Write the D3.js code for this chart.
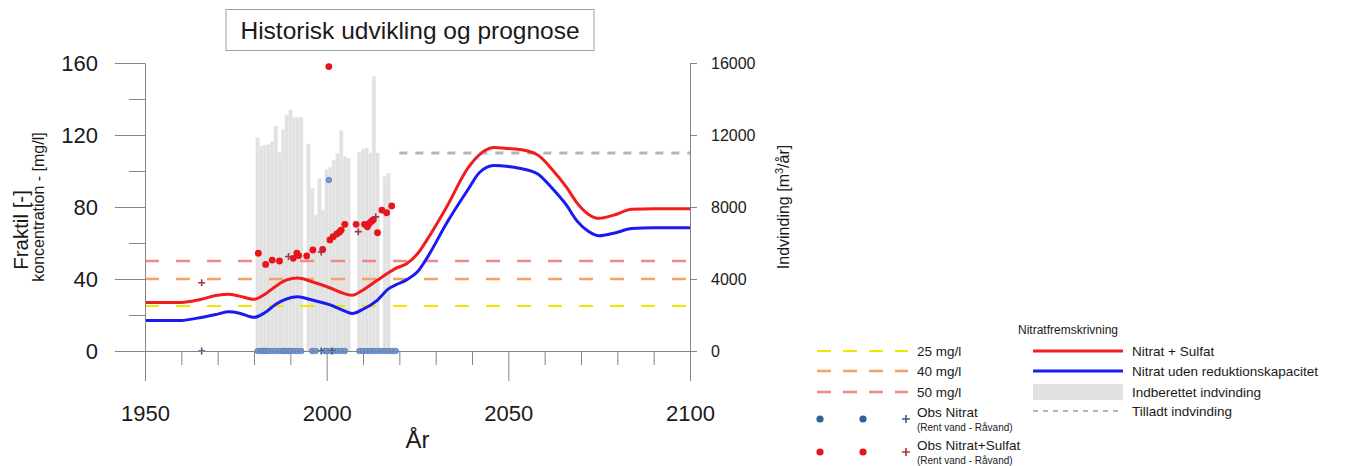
<!DOCTYPE html>
<html>
<head>
<meta charset="utf-8">
<script src="https://cdn.jsdelivr.net/npm/d3@7"></script>
<style>
  body { margin: 0; background: #fff; }
  text { font-family: "Liberation Sans", Arial, sans-serif; fill: #1a1a1a; }
</style>
</head>
<body>
<div id="chart"></div>
<script>
// Nitratfremskrivning (mg/l)
const fremYears = [1950, 1960, 1965, 1970, 1973, 1976, 1980, 1983, 1986, 1989,
  1992, 1996, 2001, 2004, 2007, 2010, 2014, 2017, 2019, 2022,
  2025, 2028, 2033, 2039, 2042, 2046, 2050, 2053, 2058, 2062,
  2066, 2069, 2072, 2075, 2079, 2084, 2090, 2100];
const nitratSulfat = [27, 27, 28.5, 31, 31.5, 30.5, 28.7, 31.5, 36, 39.5,
  40.5, 38.5, 35, 32.5, 31, 33.9, 39.4, 43.5, 45.9, 48.5,
  54, 63, 80, 102, 109, 113, 112.5, 112, 109, 101,
  91, 82, 76, 73.7, 75.5, 78.7, 79, 79];
const nitratUden = [17, 17, 18.5, 20.5, 21.8, 21, 18.7, 21.3, 26, 29,
  30.2, 28.3, 25.6, 23, 20.9, 23.2, 28.3, 34.5, 36.7, 39.5,
  44, 53, 71, 90, 99, 103, 102.5, 101.5, 98.5, 90.5,
  81, 72, 66.5, 64, 65.4, 68, 68.5, 68.5];

// Indberettet indvinding (m3/aar)
const indvYears = [1981, 1982, 1983, 1984, 1985, 1986, 1987, 1988, 1989, 1990, 1991, 1992, 1993,
  1995, 1996, 1997, 1998, 1999, 2000, 2001, 2002, 2003, 2004, 2005, 2006,
  2009, 2010, 2011, 2012, 2013, 2014, 2016, 2017];
const indvValues = [11870, 11390, 11440, 11480, 11630, 12500, 11020, 12310, 13110, 13390, 12980, 12980, 12980,
  11500, 9040, 7560, 9590, 7830, 10060, 10200, 10600, 10980, 12240, 10800, 10700,
  11040, 11220, 11280, 11000, 15240, 11000, 9690, 9870];

// Tilladt indvinding
const tilladtYears = [2020, 2100];
const tilladtValues = [11000, 11000];

// Graensevaerdier (mg/l)
const graenser = [25, 40, 50];
const graenseLabels = ["25 mg/l", "40 mg/l", "50 mg/l"];

// Obs Nitrat+Sulfat, rent vand
const obsNSYears = [1981.2, 1983.2, 1985, 1987, 1990.8, 1991.8, 1992.3, 1994.5, 1996.2, 1998.9,
  2000.9, 2001.8, 2002.8, 2003.5, 2004, 2005, 2008.1, 2010.4, 2011.2, 2011.7,
  2012.3, 2012.8, 2014, 2015.2, 2016.5, 2017.9, 2000.6];
const obsNSValues = [54.3, 48.1, 50.5, 50, 51.5, 54.3, 53, 52.8, 56.1, 56.4,
  61.7, 63.5, 65, 66, 67.2, 70.4, 70.4, 70.4, 69, 70.9,
  72, 72.8, 65.7, 78.3, 76.8, 80.6, 158];
// Obs Nitrat+Sulfat, raavand
const obsNSRaaYears = [1965.6, 1989.5, 1998.5, 2008.7, 2013.5];
const obsNSRaaValues = [37.9, 52.5, 55, 66.3, 74.5];

// Obs Nitrat, rent vand
const obsNYears = [1981, 1982, 1982.6, 1983.4, 1984, 1985, 1986, 1987, 1988, 1988.6, 1989.4, 1990, 1991, 1992, 1993,
  1996, 1997, 1999.5, 2000, 2001, 2002, 2003, 2004, 2005,
  2009, 2010, 2011, 2012, 2013, 2014, 2015, 2016, 2017, 2018, 2019, 2000.6];
const obsNValues = [0, 0, 0, 0, 0, 0, 0, 0, 0, 0, 0, 0, 0, 0, 0,
  0, 0, 0, 0, 0, 0, 0, 0, 0,
  0, 0, 0, 0, 0, 0, 0, 0, 0, 0, 0, 95];
// Obs Nitrat, raavand
const obsNRaaYears = [1965.6, 1998.5, 2001.5];
const obsNRaaValues = [0, 0, 0];

const xMajor = [1950, 2000, 2050, 2100];
const xMinor = d3.range(1960, 2100, 10).filter(d => d % 50 !== 0);
const yMajor = [0, 40, 80, 120, 160];
const yMinor = [20, 60, 100, 140];
const yRTicks = [0, 4000, 8000, 12000, 16000];

const W = 1364, H = 466;
const svg = d3.select("#chart").append("svg")
  .attr("width", W).attr("height", H);

const x = d3.scaleLinear().domain([1950, 2100]).range([145, 690]);
const y = d3.scaleLinear().domain([0, 160]).range([351, 63]);
const yR = d3.scaleLinear().domain([0, 16000]).range([351, 63]);
const barW = x(1951) - x(1950);

const col = {
  red: "#f21c1c", blue: "#1a1af2", bar: "#e1e1e1",
  yellow: "#f2e600", orange: "#f6a266", pink: "#f48787",
  tilladt: "#b5b5b5", dotRed: "#e8141c", plusRed: "#a8343c",
  dotBlue: "#6c9be4", dotBlueEdge: "#3d66aa", legBlue: "#2f6194", plusBlue: "#3a5b8a"
};
const graenseCol = [col.yellow, col.orange, col.pink];
const graenseW = [2, 2.6, 2.4];

// bars
svg.append("g").selectAll("rect")
  .data(indvYears)
  .join("rect")
  .attr("x", d => x(d) - barW / 2)
  .attr("width", barW)
  .attr("y", (d, i) => yR(indvValues[i]))
  .attr("height", (d, i) => yR(0) - yR(indvValues[i]))
  .attr("fill", col.bar)
  .attr("stroke", "#ececec")
  .attr("stroke-width", 0.5);

// threshold lines
svg.append("g").selectAll("line")
  .data(graenser)
  .join("line")
  .attr("x1", x(1950)).attr("x2", x(2100))
  .attr("y1", d => y(d)).attr("y2", d => y(d))
  .attr("stroke", (d, i) => graenseCol[i])
  .attr("stroke-width", (d, i) => graenseW[i])
  .attr("stroke-dasharray", "14,17");

// tilladt indvinding
svg.append("path")
  .datum(tilladtYears)
  .attr("fill", "none")
  .attr("stroke", col.tilladt)
  .attr("stroke-width", 3)
  .attr("stroke-dasharray", "8,8")
  .attr("d", d3.line().x(d => x(d)).y((d, i) => yR(tilladtValues[i])));

// fremskrivning lines
const curve = (vals) => d3.line()
  .x(d => x(d))
  .y((d, i) => y(vals[i]))
  .curve(d3.curveMonotoneX);

svg.append("path").datum(fremYears)
  .attr("fill", "none").attr("stroke", col.blue).attr("stroke-width", 3)
  .attr("d", curve(nitratUden));
svg.append("path").datum(fremYears)
  .attr("fill", "none").attr("stroke", col.red).attr("stroke-width", 3)
  .attr("d", curve(nitratSulfat));

// observations
function plus(g, cx, cy, s, color) {
  g.append("path")
    .attr("d", `M${cx - s},${cy}H${cx + s}M${cx},${cy - s}V${cy + s}`)
    .attr("stroke", color).attr("stroke-width", 1.6).attr("fill", "none");
}

const obs = svg.append("g");
obs.selectAll("circle.n")
  .data(obsNYears)
  .join("circle")
  .attr("class", "n")
  .attr("cx", d => x(d))
  .attr("cy", (d, i) => y(obsNValues[i]))
  .attr("r", 2.8)
  .attr("fill", col.dotBlue)
  .attr("stroke", col.dotBlueEdge)
  .attr("stroke-width", 0.6);
obsNRaaYears.forEach((d, i) => plus(obs, x(d), y(obsNRaaValues[i]), 3.5, col.plusBlue));

obs.selectAll("circle.ns")
  .data(obsNSYears)
  .join("circle")
  .attr("class", "ns")
  .attr("cx", d => x(d))
  .attr("cy", (d, i) => y(obsNSValues[i]))
  .attr("r", 3.4)
  .attr("fill", col.dotRed);
obsNSRaaYears.forEach((d, i) => plus(obs, x(d), y(obsNSRaaValues[i]), 3.5, col.plusRed));

// axes
function styleAxis(g) {
  g.selectAll("line, path").attr("stroke", "#858585");
  g.selectAll("text").attr("fill", "#1a1a1a").style("font-family", "Liberation Sans, Arial, sans-serif");
}

svg.append("g")
  .attr("transform", `translate(${x(1950)},0)`)
  .call(d3.axisLeft(y).tickValues(yMinor).tickSize(16).tickFormat("").tickSizeOuter(0))
  .call(g => g.select(".domain").remove())
  .call(styleAxis);
svg.append("g")
  .attr("transform", `translate(${x(1950)},0)`)
  .call(d3.axisLeft(y).tickValues(yMajor).tickSize(30).tickPadding(17).tickSizeOuter(0))
  .call(g => g.selectAll("text").style("font-size", "22px"))
  .call(styleAxis);

svg.append("g")
  .attr("transform", `translate(${x(2100)},0)`)
  .call(d3.axisRight(yR).tickValues(yRTicks).tickSize(7).tickPadding(14).tickFormat(d3.format("d")).tickSizeOuter(0))
  .call(g => g.selectAll("text").style("font-size", "16px"))
  .call(styleAxis);

svg.append("g")
  .attr("transform", `translate(0,${y(0)})`)
  .call(d3.axisBottom(x).tickValues(xMinor).tickSize(14).tickFormat("").tickSizeOuter(0))
  .call(styleAxis);
svg.append("g")
  .attr("transform", `translate(0,${y(0)})`)
  .call(d3.axisBottom(x).tickValues(xMajor).tickSize(30).tickPadding(24).tickFormat(d3.format("d")).tickSizeOuter(0))
  .call(g => g.selectAll("text").style("font-size", "22px"))
  .call(styleAxis);

// axis titles
svg.append("text")
  .attr("x", (x(1950) + x(2100)) / 2).attr("y", 448)
  .attr("text-anchor", "middle").style("font-size", "24px").text("År");

svg.append("text")
  .attr("transform", "translate(28,230) rotate(-90)")
  .attr("text-anchor", "middle").style("font-size", "20.5px").text("Fraktil [-]");
svg.append("text")
  .attr("transform", "translate(44,207) rotate(-90)")
  .attr("text-anchor", "middle").style("font-size", "16px").text("koncentration - [mg/l]");

const rt = svg.append("text")
  .attr("transform", "translate(789,207) rotate(-90)")
  .attr("text-anchor", "middle").style("font-size", "16px");
rt.append("tspan").text("Indvinding [m");
rt.append("tspan").attr("dy", -6).style("font-size", "11px").text("3");
rt.append("tspan").attr("dy", 6).text("/år]");

// title
svg.append("rect")
  .attr("x", 226).attr("y", 9.5).attr("width", 368).attr("height", 41)
  .attr("fill", "#fff").attr("stroke", "#a0a0a0");
svg.append("text")
  .attr("x", 410).attr("y", 39)
  .attr("text-anchor", "middle").style("font-size", "24.5px")
  .text("Historisk udvikling og prognose");

// legend
const leg = svg.append("g");
leg.append("text").attr("x", 1068).attr("y", 334)
  .attr("text-anchor", "middle").style("font-size", "12px").text("Nitratfremskrivning");

const legRows = [351, 371, 392];
graenser.forEach((d, i) => {
  leg.append("line")
    .attr("x1", 817).attr("x2", 908).attr("y1", legRows[i]).attr("y2", legRows[i])
    .attr("stroke", graenseCol[i]).attr("stroke-width", graenseW[i])
    .attr("stroke-dasharray", "14,12");
  leg.append("text").attr("x", 917).attr("y", legRows[i] + 4.5)
    .style("font-size", "13.5px").text(graenseLabels[i]);
});

const obsLeg = [
  { y: 419, dot: col.legBlue, plus: col.plusBlue, label: "Obs Nitrat" },
  { y: 452, dot: col.dotRed, plus: col.plusRed, label: "Obs Nitrat+Sulfat" }
];
obsLeg.forEach(o => {
  [820, 863].forEach(cx => leg.append("circle").attr("cx", cx).attr("cy", o.y).attr("r", 3.6).attr("fill", o.dot));
  plus(leg, 906, o.y, 4, o.plus);
  leg.append("text").attr("x", 917).attr("y", o.y - 2).style("font-size", "13.5px").text(o.label);
  leg.append("text").attr("x", 917).attr("y", o.y + 12).style("font-size", "10px").text("(Rent vand - Råvand)");
});

const rightLeg = ["Nitrat + Sulfat", "Nitrat uden reduktionskapacitet", "Indberettet indvinding", "Tilladt indvinding"];
const rightRows = [351, 371, 392, 411];
leg.append("line").attr("x1", 1033).attr("x2", 1123).attr("y1", rightRows[0]).attr("y2", rightRows[0])
  .attr("stroke", col.red).attr("stroke-width", 3);
leg.append("line").attr("x1", 1033).attr("x2", 1123).attr("y1", rightRows[1]).attr("y2", rightRows[1])
  .attr("stroke", col.blue).attr("stroke-width", 3);
leg.append("rect").attr("x", 1033).attr("y", rightRows[2] - 8).attr("width", 90).attr("height", 16)
  .attr("fill", col.bar);
leg.append("line").attr("x1", 1033).attr("x2", 1123).attr("y1", rightRows[3]).attr("y2", rightRows[3])
  .attr("stroke", col.tilladt).attr("stroke-width", 2).attr("stroke-dasharray", "5,5");
rightLeg.forEach((t, i) => {
  leg.append("text").attr("x", 1132).attr("y", rightRows[i] + 4.5).style("font-size", "13.5px").text(t);
});
</script>
</body>
</html>
